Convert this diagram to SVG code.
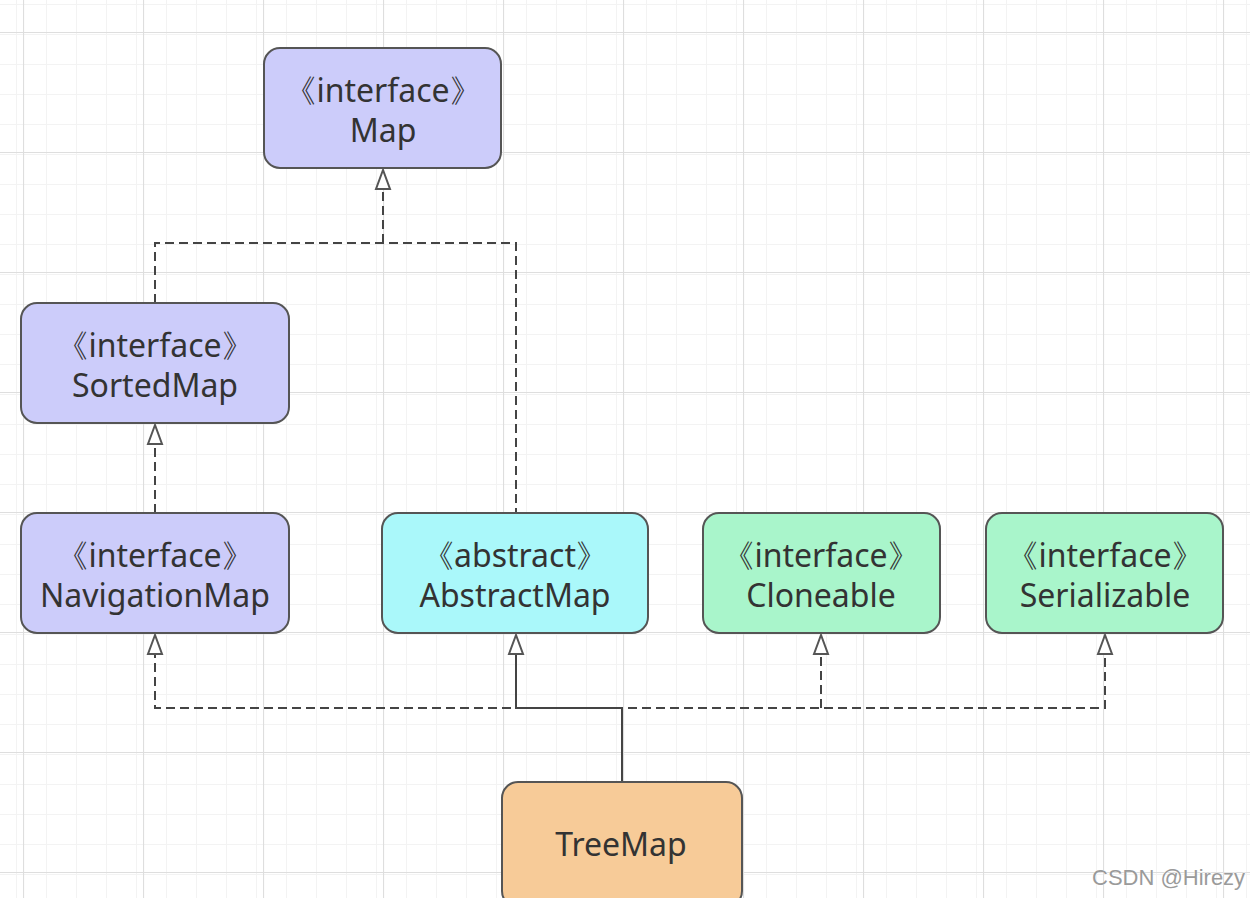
<svg xmlns="http://www.w3.org/2000/svg" width="1250" height="898" viewBox="0 0 1250 898">
<defs>
<pattern id="minor" patternUnits="userSpaceOnUse" x="23" y="32" width="30" height="30">
<path d="M0 0.5H30M0.5 0V30" fill="none" stroke="#f3f3f3" stroke-width="1"/>
</pattern>
<pattern id="major" patternUnits="userSpaceOnUse" x="23" y="32" width="120" height="120">
<rect width="120" height="120" fill="url(#minor)"/>
<path d="M0 0.5H120M0.5 0V120" fill="none" stroke="#dedede" stroke-width="1.2"/>
</pattern>
<marker id="tri" markerUnits="userSpaceOnUse" markerWidth="24" markerHeight="20" refX="22" refY="10" orient="auto-start-reverse" viewBox="0 0 24 20">
<path d="M22 10 L3 3 L3 17 Z" fill="#ffffff" stroke="#555555" stroke-width="2" stroke-linejoin="miter"/>
</marker>
</defs>
<style>
.box{stroke:#555555;stroke-width:2}
.iface{fill:#ccccfa}
.abs{fill:#aaf8fa}
.grn{fill:#a9f5cb}
.org{fill:#f7cb98}
.t{font-family:"Noto Sans","Liberation Sans",Arial,sans-serif;font-size:32px;fill:#333333;text-anchor:middle}
.dash{fill:none;stroke:#444444;stroke-width:2;stroke-dasharray:9 5}
.solid{fill:none;stroke:#444444;stroke-width:2}
.wm{font-family:"Liberation Sans",Arial,sans-serif;font-size:22px;fill:#9a9a9a;stroke:#ffffff;stroke-width:0.6;paint-order:stroke}
</style>
<rect width="1250" height="898" fill="#ffffff"/>
<rect width="1250" height="898" fill="url(#major)"/>

<g id="connectors">
<path class="dash" d="M155 303 V243 H516 V512"/>
<path class="dash" d="M383 243 V170" marker-end="url(#tri)"/>
<path class="dash" d="M155 513 V425" marker-end="url(#tri)"/>
<path class="dash" d="M155 635 V708 H1105 V635" marker-start="url(#tri)" marker-end="url(#tri)"/>
<path class="dash" d="M821 708 V635" marker-end="url(#tri)"/>
<path class="solid" d="M622 782 V708 H516 V635" marker-end="url(#tri)"/>
</g>

<g id="Map">
<rect class="box iface" x="264" y="48" width="237" height="120" rx="16"/>
<text class="t" x="383" y="102">《interface》</text>
<text class="t" x="383" y="142">Map</text>
</g>
<g id="SortedMap">
<rect class="box iface" x="21" y="303" width="268" height="120" rx="16"/>
<text class="t" x="155" y="357">《interface》</text>
<text class="t" x="155" y="397">SortedMap</text>
</g>
<g id="NavigationMap">
<rect class="box iface" x="21" y="513" width="268" height="120" rx="16"/>
<text class="t" x="155" y="567">《interface》</text>
<text class="t" x="155" y="607">NavigationMap</text>
</g>
<g id="AbstractMap">
<rect class="box abs" x="382" y="513" width="266" height="120" rx="16"/>
<text class="t" x="515" y="567">《abstract》</text>
<text class="t" x="515" y="607">AbstractMap</text>
</g>
<g id="Cloneable">
<rect class="box grn" x="703" y="513" width="237" height="120" rx="16"/>
<text class="t" x="821" y="567">《interface》</text>
<text class="t" x="821" y="607">Cloneable</text>
</g>
<g id="Serializable">
<rect class="box grn" x="986" y="513" width="237" height="120" rx="16"/>
<text class="t" x="1105" y="567">《interface》</text>
<text class="t" x="1105" y="607">Serializable</text>
</g>
<g id="TreeMap">
<rect class="box org" x="502" y="782" width="240" height="125" rx="16"/>
<text class="t" x="621" y="856">TreeMap</text>
</g>
<text class="wm" x="1092" y="885">CSDN @Hirezy</text>
</svg>
